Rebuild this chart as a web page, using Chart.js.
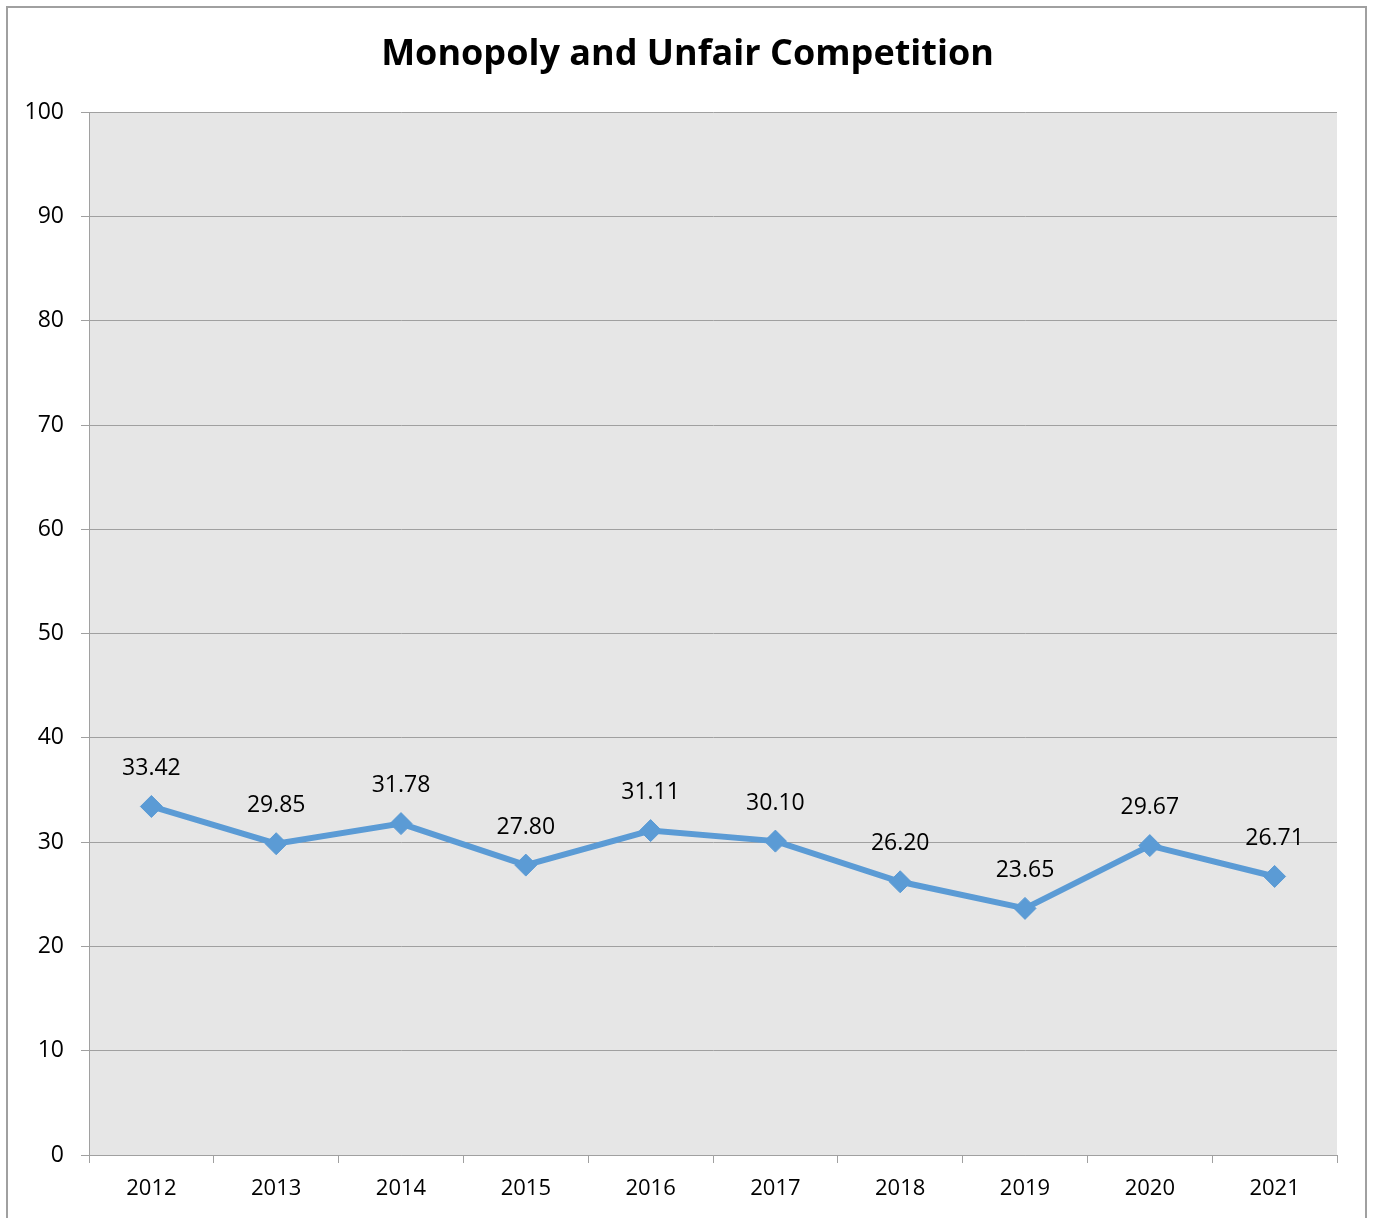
<!DOCTYPE html>
<html>
<head>
<meta charset="utf-8">
<script src="https://cdn.jsdelivr.net/npm/chart.js@4/dist/chart.umd.min.js"></script>
<style>
  body { margin: 0; background: #fff; }
  #wrap { width: 1375px; height: 1218px; }
</style>
</head>
<body>
<div id="wrap"><canvas id="lineChart"></canvas></div>
<script>
"use strict";

const years = ["2012", "2013", "2014", "2015", "2016", "2017", "2018", "2019", "2020", "2021"];
const scores = [33.42, 29.85, 31.78, 27.80, 31.11, 30.10, 26.20, 23.65, 29.67, 26.71];
const yMin = 0;
const yMax = 100;
const yStep = 10;

const fontFamily = "'Open Sans', 'Liberation Sans', sans-serif";

// frame round the whole chart + grey plot background
const framePlugin = {
    id: 'frame',
    beforeDraw(chart) {
        const ctx = chart.ctx;
        const a = chart.chartArea;
        ctx.save();
        ctx.fillStyle = '#e6e6e6';
        ctx.fillRect(a.left, a.top, a.right - a.left, a.bottom - a.top);
        ctx.strokeStyle = '#a0a0a0';
        ctx.lineWidth = 2;
        ctx.beginPath();
        ctx.moveTo(7, 1230);
        ctx.lineTo(7, 7);
        ctx.lineTo(1366, 7);
        ctx.lineTo(1366, 1230);
        ctx.stroke();
        ctx.restore();
    }
};

// value labels above each point
const labelPlugin = {
    id: 'valueLabels',
    afterDatasetsDraw(chart) {
        const ctx = chart.ctx;
        const meta = chart.getDatasetMeta(0);
        ctx.save();
        ctx.font = "23px " + fontFamily;
        ctx.fillStyle = '#000';
        ctx.textAlign = 'center';
        ctx.textBaseline = 'middle';
        meta.data.forEach((pt, i) => {
            ctx.fillText(scores[i].toFixed(2), pt.x, pt.y - 38);
        });
        ctx.restore();
    }
};

new Chart("lineChart", {
    type: "line",
    data: {
        labels: years,
        datasets: [{
            data: scores,
            borderColor: '#5b9bd5',
            backgroundColor: '#5b9bd5',
            borderWidth: 6,
            pointStyle: 'rectRot',
            pointRadius: 11,
            pointHoverRadius: 11,
            pointBorderWidth: 1,
            tension: 0
        }]
    },
    options: {
        responsive: true,
        maintainAspectRatio: false,
        animation: false,
        layout: { padding: 0 },
        plugins: {
            legend: { display: false },
            tooltip: { enabled: false },
            title: {
                display: true,
                text: "Monopoly and Unfair Competition",
                color: '#000',
                font: { family: fontFamily, size: 36, weight: 'bold', lineHeight: 1.2 },
                padding: { top: 33, bottom: 36 }
            }
        },
        scales: {
            x: {
                offset: true,
                grid: {
                    offset: true,
                    drawOnChartArea: false,
                    drawTicks: true,
                    tickLength: 8,
                    color: '#a0a0a0'
                },
                border: { display: true, color: '#a0a0a0' },
                ticks: {
                    color: '#000',
                    padding: 13,
                    font: { family: fontFamily, size: 22 }
                },
                afterFit(scale) { scale.height = 63; }
            },
            y: {
                min: yMin,
                max: yMax,
                ticks: {
                    stepSize: yStep,
                    color: '#000',
                    padding: 17,
                    font: { family: fontFamily, size: 23 }
                },
                grid: {
                    color: '#a0a0a0',
                    tickLength: 8,
                    lineWidth: 1
                },
                border: { display: true, color: '#a0a0a0' },
                afterFit(scale) { scale.width = 89; }
            },
            // empty axis on the right, only to keep the margin there
            yRight: {
                position: 'right',
                display: true,
                grid: { display: false },
                ticks: { display: false },
                border: { display: false },
                afterFit(scale) { scale.width = 38; }
            }
        }
    },
    plugins: [framePlugin, labelPlugin]
});
</script>
</body>
</html>
